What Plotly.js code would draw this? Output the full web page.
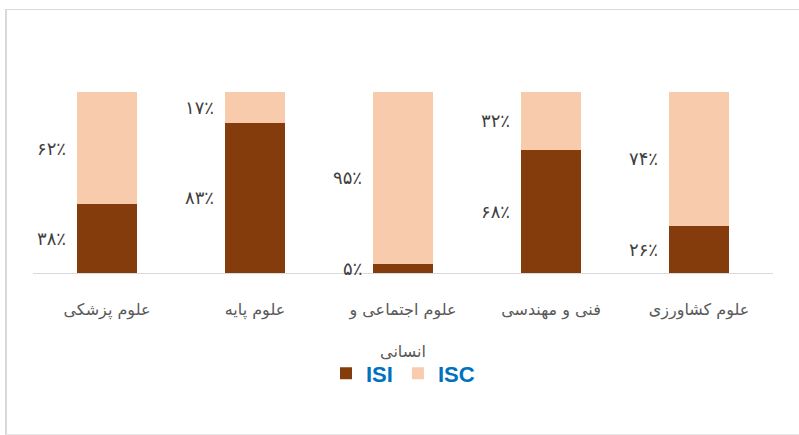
<!DOCTYPE html>
<html>
<head>
<meta charset="utf-8">
<script src="https://cdn.plot.ly/plotly-3.0.1.min.js"></script>
<style>
  html, body { margin: 0; padding: 0; background: #fff; }
  #frame { position: absolute; left: 5px; top: 9px; width: 820px; height: 424px;
           border-top: 1px solid #d9d9d9; border-left: 2px solid #d9d9d9; border-bottom: 1px solid #e6e6e6; }
  #chart { position: absolute; left: 0; top: 0; width: 799px; height: 435px; }
</style>
</head>
<body>
<div id="frame"></div>
<div id="chart"></div>
<script>
const categories = ["علوم پزشکی", "علوم پایه", "علوم اجتماعی و<br> <br>انسانی", "فنی و مهندسی", "علوم کشاورزی"];
const isiValues = [38, 83, 5, 68, 26];
const iscValues = [62, 17, 95, 32, 74];
const isiLabels = ["۳۸٪", "۸۳٪", "۵٪", "۶۸٪", "۲۶٪"];
const iscLabels = ["۶۲٪", "۱۷٪", "۹۵٪", "۳۲٪", "۷۴٪"];
const seriesNames = ["ISI", "ISC"];

const isiColor = "#843C0C";
const iscColor = "#F8CBAD";

const traces = [
  { type: "bar", name: seriesNames[0], x: categories, y: isiValues,
    marker: { color: isiColor, line: { width: 0 } }, hoverinfo: "skip" },
  { type: "bar", name: seriesNames[1], x: categories, y: iscValues,
    marker: { color: iscColor, line: { width: 0 } }, hoverinfo: "skip" }
];

const plotLeft = 33, plotRight = 773;
const catWidth = (plotRight - plotLeft) / categories.length;
const barFrac = 0.405;
const labelShift = -(catWidth * barFrac / 2 + 9);
const labelFont = { family: "DejaVu Sans, sans-serif", size: 18, color: "#404040" };

const annotations = [];
categories.forEach((c, i) => {
  annotations.push({ x: c, y: isiValues[i] / 2, xref: "x", yref: "y", text: isiLabels[i],
    showarrow: false, xanchor: "right", yanchor: "middle", xshift: labelShift, font: labelFont });
  annotations.push({ x: c, y: isiValues[i] + iscValues[i] / 2, xref: "x", yref: "y", text: iscLabels[i],
    showarrow: false, xanchor: "right", yanchor: "middle", xshift: labelShift, font: labelFont });
});

const layout = {
  width: 799, height: 435,
  margin: { l: plotLeft, r: 799 - plotRight, t: 92, b: 162, pad: 0 },
  paper_bgcolor: "rgba(0,0,0,0)",
  plot_bgcolor: "rgba(0,0,0,0)",
  barmode: "stack",
  bargap: 1 - barFrac,
  showlegend: true,
  legend: {
    orientation: "h", x: 0.5, xanchor: "center", xref: "paper",
    y: -0.555, yanchor: "middle",
    font: { family: "Liberation Sans Narrow, Arial Narrow, sans-serif", size: 22, color: "#0070C0", weight: "bold" },
    itemwidth: 30, traceorder: "normal"
  },
  xaxis: {
    type: "category",
    showgrid: false, zeroline: false,
    showline: true, linecolor: "#d9d9d9", linewidth: 1,
    ticks: "", ticklen: 0, ticklabelstandoff: 22,
    tickfont: { family: "DejaVu Sans, sans-serif", size: 16, color: "#595959" },
    fixedrange: true
  },
  yaxis: {
    range: [0, 100], showgrid: false, zeroline: false, showline: false,
    showticklabels: false, ticks: "", fixedrange: true
  },
  annotations: annotations
};

Plotly.newPlot("chart", traces, layout, { displayModeBar: false, staticPlot: true });
</script>
</body>
</html>
